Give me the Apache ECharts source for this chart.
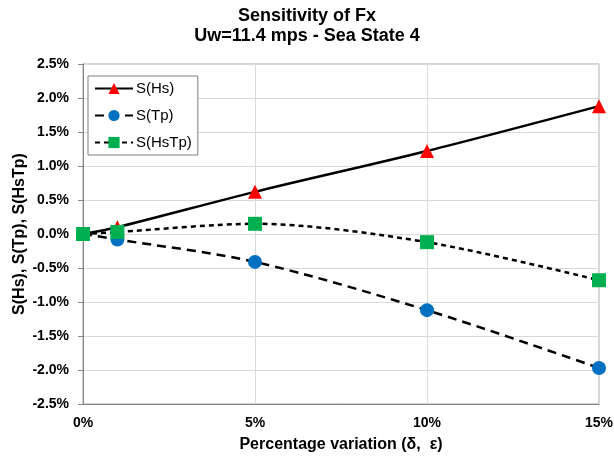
<!DOCTYPE html>
<html>
<head>
<meta charset="utf-8">
<script src="https://cdn.jsdelivr.net/npm/echarts@6/dist/echarts.min.js"></script>
<style>
  html, body { margin: 0; padding: 0; background: #fff; }
  #chart { width: 614px; height: 459px; }
</style>
</head>
<body>
<div id="chart"></div>
<script>
// percentage variation (x, in %)
var variation = [0, 1, 5, 10, 15];
// sensitivities (in %)
var sHs = [0, 0.1, 0.62, 1.22, 1.88];
var sTp = [0, -0.08, -0.41, -1.12, -1.97];
var sHsTp = [0, 0.03, 0.15, -0.12, -0.68];

function pairs(ys) {
  return variation.map(function (x, i) { return [x, ys[i]]; });
}

var myChart = echarts.init(document.getElementById("chart"));
var font = "Liberation Sans, Arial, sans-serif";

var options = {
  animation: false,
  title: {
    text: "Sensitivity of Fx\nUw=11.4 mps - Sea State 4",
    left: "center",
    top: 1,
    textStyle: {
      fontFamily: font,
      fontSize: 18,
      fontWeight: "bold",
      color: "#000",
      lineHeight: 20,
    },
  },
  legend: {
    orient: "vertical",
    left: 88,
    top: 76,
    padding: [5, 6, 5, 6],
    itemGap: 12,
    itemWidth: 38,
    itemHeight: 14,
    borderColor: "#7f7f7f",
    borderWidth: 1,
    borderRadius: 0,
    backgroundColor: "#fff",
    textStyle: { fontFamily: font, fontSize: 15, color: "#000", padding: [0, 0, 0, -2] },
    data: ["S(Hs)", "S(Tp)", "S(HsTp)"],
  },
  grid: {
    left: 83,
    right: 15,
    top: 64,
    bottom: 55,
    outerBoundsMode: "none",
    show: true,
    borderColor: "#a6a6a6",
    borderWidth: 1,
  },
  xAxis: {
    type: "value",
    min: 0,
    max: 15,
    interval: 5,
    name: "Percentage variation (\u03b4,  \u03b5)",
    nameLocation: "middle",
    nameGap: 33,
    nameMoveOverlap: false,
    nameTextStyle: { fontFamily: font, fontSize: 16, fontWeight: "bold", color: "#000" },
    axisLine: { onZero: false, lineStyle: { color: "#868686" } },
    axisTick: { show: false },
    axisLabel: {
      formatter: function (v) { return v + "%"; },
      fontFamily: font,
      fontSize: 14,
      fontWeight: "bold",
      color: "#000",
      margin: 12,
    },
    splitLine: { lineStyle: { color: "#d9d9d9", width: 1 } },
  },
  yAxis: {
    type: "value",
    min: -2.5,
    max: 2.5,
    interval: 0.5,
    name: "S(Hs), S(Tp), S(HsTp)",
    nameLocation: "middle",
    nameRotate: 90,
    nameGap: 55,
    nameMoveOverlap: false,
    nameTextStyle: { fontFamily: font, fontSize: 16, fontWeight: "bold", color: "#000" },
    axisLine: { show: true, lineStyle: { color: "#868686" } },
    axisTick: { show: true, length: 5, inside: false, lineStyle: { color: "#868686" } },
    axisLabel: {
      formatter: function (v) { return v.toFixed(1) + "%"; },
      fontFamily: font,
      fontSize: 14,
      fontWeight: "bold",
      color: "#000",
      margin: 14,
    },
    splitLine: { lineStyle: { color: "#d9d9d9", width: 1 } },
  },
  series: [
    {
      name: "S(Hs)",
      type: "line",
      data: pairs(sHs),
      smooth: 0.3,
      symbol: "triangle",
      symbolSize: 14,
      itemStyle: { color: "#ff0000" },
      lineStyle: { color: "#000", width: 2.5, type: "solid" },
      z: 3,
    },
    {
      name: "S(Tp)",
      type: "line",
      data: pairs(sTp),
      smooth: 0.3,
      symbol: "circle",
      symbolSize: 14,
      itemStyle: { color: "#0070c0" },
      lineStyle: { color: "#000", width: 2.5, type: [9, 6] },
      z: 3,
    },
    {
      name: "S(HsTp)",
      type: "line",
      data: pairs(sHsTp),
      smooth: 0.3,
      symbol: "rect",
      symbolSize: 14,
      itemStyle: { color: "#00b050" },
      lineStyle: { color: "#000", width: 2.5, type: [5, 4] },
      z: 4,
    },
  ],
};
myChart.setOption(options);
</script>
</body>
</html>
